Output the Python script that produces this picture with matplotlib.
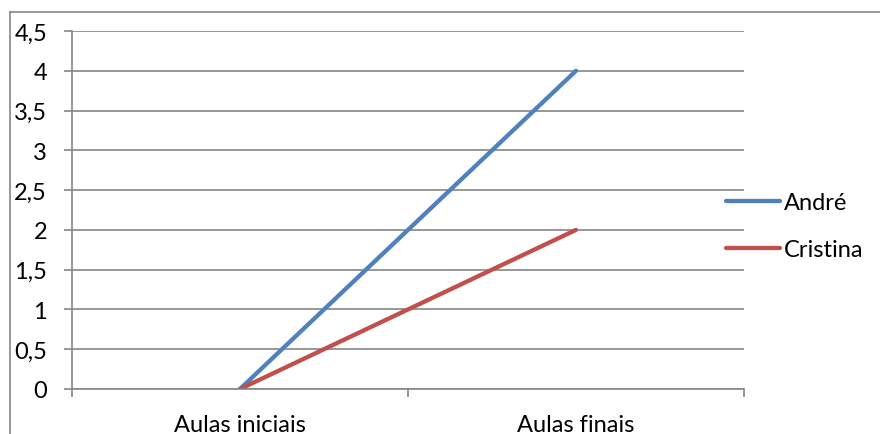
import matplotlib.pyplot as plt
from matplotlib.lines import Line2D
from matplotlib.ticker import FixedLocator, FuncFormatter

plt.rcParams['font.family'] = ['Lato', 'DejaVu Sans']

categorias = ['Aulas iniciais', 'Aulas finais']
andre = [0, 4]
cristina = [0, 2]
yticks = [0, 0.5, 1, 1.5, 2, 2.5, 3, 3.5, 4, 4.5]

W, H = 880, 435
fig = plt.figure(figsize=(W / 100, H / 100), dpi=100)
ax = fig.add_axes([72 / W, 1 - 390 / H, (744 - 72) / W, (390 - 32) / H])

grid = '#868686'
fs = 17
xs = [0.5, 1.5]
ax.plot(xs, andre, color='#4F81BD', lw=3.1, solid_capstyle='round', label='André')
ax.plot(xs, cristina, color='#C0504D', lw=3.1, solid_capstyle='round', label='Cristina')

ax.set_xlim(0, 2)
ax.set_ylim(0, 4.5)
ax.set_yticks(yticks)
ax.yaxis.set_major_formatter(FuncFormatter(lambda v, p: f'{v:g}'.replace('.', ',')))
ax.yaxis.grid(True, color=grid, lw=1.2)
ax.set_axisbelow(True)

ax.set_xticks(xs)
ax.set_xticklabels(categorias)
ax.xaxis.set_minor_locator(FixedLocator([0, 1, 2]))
ax.tick_params(axis='x', which='major', length=0, pad=18, labelsize=fs)
ax.tick_params(axis='x', which='minor', length=6, width=1.2, color=grid, direction='out')
ax.tick_params(axis='y', length=6, width=1.2, color=grid, pad=12, labelsize=fs)

for s in ['top', 'right']:
    ax.spines[s].set_visible(False)
for s in ['left', 'bottom']:
    ax.spines[s].set_color(grid)
    ax.spines[s].set_linewidth(1.2)

ax.legend(loc='center left', bbox_to_anchor=((726 - 72) / 672, 0.455), frameon=False,
          fontsize=fs, handlelength=2.3, handletextpad=0.17, labelspacing=1.1,
          borderpad=0, borderaxespad=0)

# chart border
fig.add_artist(Line2D([10 / W, 1], [1 - 13 / H] * 2, color=grid, lw=1.2))
fig.add_artist(Line2D([10 / W] * 2, [0, 1 - 13 / H], color=grid, lw=1.2))

fig.savefig('out.png', dpi=100)
